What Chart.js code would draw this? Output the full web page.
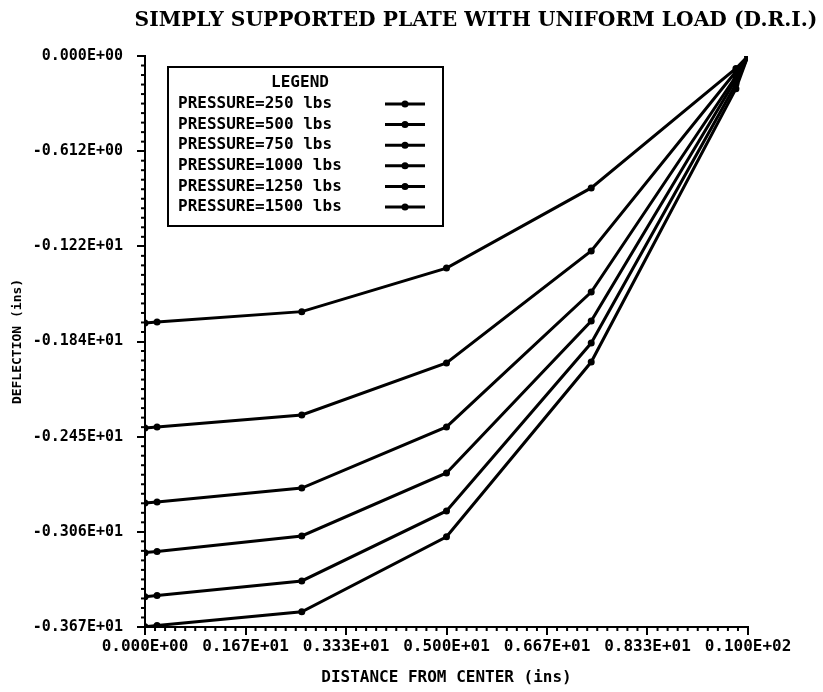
<!DOCTYPE html>
<html>
<head>
<meta charset="utf-8">
<script src="https://cdn.jsdelivr.net/npm/chart.js@4/dist/chart.umd.min.js"></script>
<style>
  html, body { margin: 0; padding: 0; background: #fff; }
  #wrap { width: 823px; height: 692px; }
</style>
</head>
<body>
<div id="wrap"><canvas id="c" width="823" height="692"></canvas></div>
<script>
// ---- data ----
const chartTitle = "SIMPLY SUPPORTED PLATE WITH UNIFORM LOAD (D.R.I.)";
const xTitle = "DISTANCE FROM CENTER (ins)";
const yTitle = "DEFLECTION (ins)";
const legendTitle = "LEGEND";

const distance = [0, 0.2, 2.6, 5.0, 7.4, 9.8, 10.0];

const seriesLabels = [
  "PRESSURE=250 lbs",
  "PRESSURE=500 lbs",
  "PRESSURE=750 lbs",
  "PRESSURE=1000 lbs",
  "PRESSURE=1250 lbs",
  "PRESSURE=1500 lbs"
];

const p250  = [-1.716, -1.710, -1.643, -1.363, -0.848, -0.080, 0];
const p500  = [-2.391, -2.385, -2.307, -1.973, -1.253, -0.100, 0];
const p750  = [-2.873, -2.866, -2.777, -2.384, -1.517, -0.130, 0];
const p1000 = [-3.192, -3.185, -3.085, -2.680, -1.703, -0.150, 0];
const p1250 = [-3.475, -3.467, -3.374, -2.924, -1.845, -0.180, 0];
const p1500 = [-3.668, -3.660, -3.572, -3.090, -1.967, -0.210, 0];

const xTickValues = [0, 1.6667, 3.3333, 5.0, 6.6667, 8.3333, 10.0];
const xTickLabels = ["0.000E+00", "0.167E+01", "0.333E+01", "0.500E+01", "0.667E+01", "0.833E+01", "0.100E+02"];
const yTickValues = [0, -0.61167, -1.22333, -1.835, -2.44667, -3.05833, -3.67];
const yTickLabels = ["0.000E+00", "-0.612E+00", "-0.122E+01", "-0.184E+01", "-0.245E+01", "-0.306E+01", "-0.367E+01"];

// ---- chart ----
const allSeries = [p250, p500, p750, p1000, p1250, p1500];
const MONO = '"DejaVu Sans Mono", "Liberation Mono", monospace';

const datasets = allSeries.map((s, i) => ({
  label: seriesLabels[i],
  data: s.map((v, j) => ({ x: distance[j], y: v })),
  borderColor: '#000',
  backgroundColor: '#000',
  borderWidth: 3,
  pointRadius: 3.5,
  pointBackgroundColor: '#000',
  pointBorderWidth: 0,
  tension: 0
}));

const minorTicks = {
  id: 'minorTicks',
  afterDraw(chart) {
    const ctx = chart.ctx;
    const xs = chart.scales.x, ys = chart.scales.y;
    ctx.save();
    ctx.strokeStyle = '#000';
    ctx.lineWidth = 2;
    const subdiv = 10;
    for (let i = 0; i < xTickValues.length - 1; i++) {
      const a = xTickValues[i], b = xTickValues[i + 1];
      for (let k = 1; k < subdiv; k++) {
        const px = xs.getPixelForValue(a + (b - a) * k / subdiv);
        ctx.beginPath();
        ctx.moveTo(px, xs.top);
        ctx.lineTo(px, xs.top + 4);
        ctx.stroke();
      }
    }
    for (let i = 0; i < yTickValues.length - 1; i++) {
      const a = yTickValues[i], b = yTickValues[i + 1];
      for (let k = 1; k < subdiv; k++) {
        const py = ys.getPixelForValue(a + (b - a) * k / subdiv);
        ctx.beginPath();
        ctx.moveTo(ys.right, py);
        ctx.lineTo(ys.right - 4, py);
        ctx.stroke();
      }
    }
    ctx.restore();
  }
};

const boxLegend = {
  id: 'boxLegend',
  afterDraw(chart) {
    const ctx = chart.ctx;
    ctx.save();
    ctx.strokeStyle = '#000';
    ctx.lineWidth = 2;
    ctx.strokeRect(168, 67, 275, 159);
    ctx.fillStyle = '#000';
    ctx.font = 'bold 16px ' + MONO;
    ctx.textBaseline = 'middle';
    ctx.textAlign = 'center';
    ctx.fillText(legendTitle, 300, 83);
    ctx.textAlign = 'left';
    chart.data.datasets.forEach((ds, i) => {
      const y = 104 + i * 20.6;
      ctx.fillText(ds.label, 178, y);
      ctx.lineWidth = 3;
      ctx.beginPath();
      ctx.moveTo(385, y);
      ctx.lineTo(425, y);
      ctx.stroke();
      ctx.beginPath();
      ctx.arc(405, y, 3.5, 0, Math.PI * 2);
      ctx.fill();
    });
    ctx.restore();
  }
};

const topTitle = {
  id: 'topTitle',
  afterDraw(chart) {
    const ctx = chart.ctx;
    ctx.save();
    ctx.fillStyle = '#000';
    ctx.textAlign = 'center';
    ctx.textBaseline = 'middle';
    let size = 24;
    ctx.font = 'bold ' + size + 'px "DejaVu Serif", "Liberation Serif", serif';
    const w = ctx.measureText(chartTitle).width;
    size = size * 683 / w;
    ctx.font = 'bold ' + size.toFixed(2) + 'px "DejaVu Serif", "Liberation Serif", serif';
    ctx.fillText(chartTitle, 476, 21);
    ctx.restore();
  }
};

new Chart(document.getElementById('c'), {
  type: 'line',
  data: { datasets },
  plugins: [minorTicks, boxLegend, topTitle],
  options: {
    responsive: false,
    animation: false,
    layout: { padding: { top: 56, right: 75, bottom: 0, left: 0 } },
    plugins: {
      legend: { display: false },
      tooltip: { enabled: false },
      title: { display: false }
    },
    scales: {
      x: {
        type: 'linear',
        min: 0,
        max: 10,
        afterFit: s => { s.height = 65; },
        afterBuildTicks: s => { s.ticks = xTickValues.map(v => ({ value: v })); },
        ticks: {
          autoSkip: false,
          maxRotation: 0,
          color: '#000',
          padding: 2,
          font: { family: MONO, size: 16, weight: 'bold' },
          callback: (v, i) => xTickLabels[i]
        },
        grid: { drawOnChartArea: false, drawTicks: true, tickLength: 8, color: '#000', lineWidth: 2 },
        border: { display: true, color: '#000', width: 2 },
        title: {
          display: true,
          text: xTitle,
          color: '#000',
          font: { family: MONO, size: 16, weight: 'bold' },
          padding: { top: 0, bottom: 5 }
        }
      },
      y: {
        type: 'linear',
        min: -3.67,
        max: 0,
        afterFit: s => { s.width = 145; },
        afterBuildTicks: s => { s.ticks = yTickValues.map(v => ({ value: v })); },
        ticks: {
          autoSkip: false,
          color: '#000',
          padding: 14,
          font: { family: MONO, size: 15, weight: 'bold' },
          callback: (v, i) => yTickLabels[i]
        },
        grid: { drawOnChartArea: false, drawTicks: true, tickLength: 8, color: '#000', lineWidth: 2 },
        border: { display: true, color: '#000', width: 2 },
        title: {
          display: true,
          text: yTitle,
          color: '#000',
          font: { family: MONO, size: 13, weight: 'bold' },
          padding: { top: 10, bottom: 0 }
        }
      }
    }
  }
});
</script>
</body>
</html>
